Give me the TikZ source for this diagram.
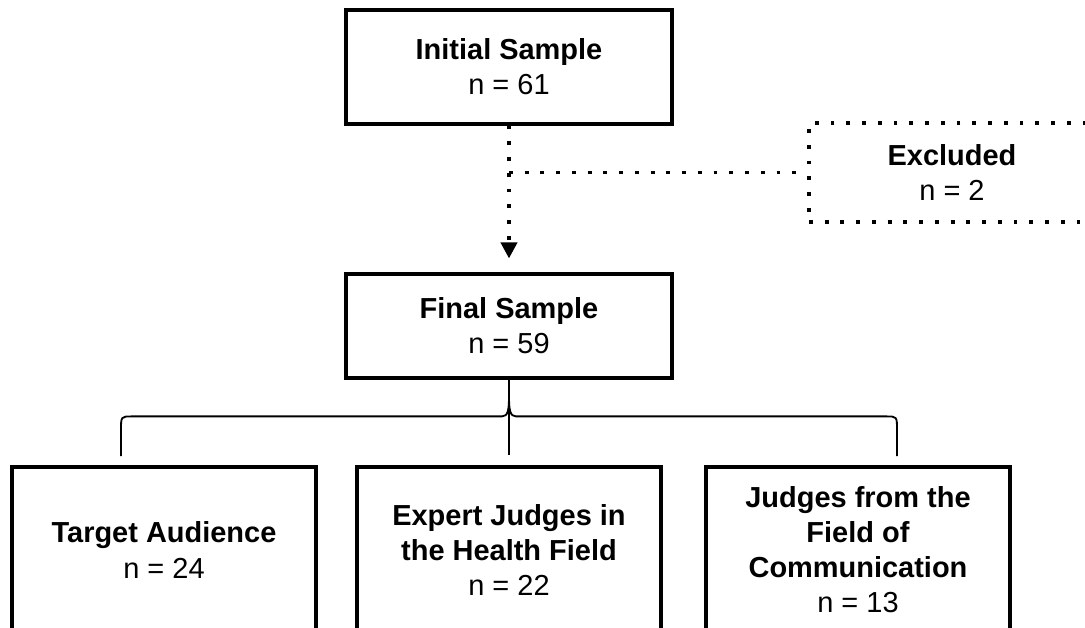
\documentclass[tikz,border=0pt]{standalone}
\usepackage{fontspec}
\setmainfont{Liberation Sans}
\usetikzlibrary{positioning, arrows.meta}

\begin{document}
\begin{tikzpicture}[
        box/.style={draw, line width=2.2pt, align=center, inner sep=0pt,
                    minimum width=8.15cm, font=\fontsize{20.6}{24.9}\selectfont},
        groupbox/.style={box, minimum width=7.6cm, minimum height=4.15cm},
        dotline/.style={line width=2.7pt, dash pattern=on 2.7pt off 8.5pt},
        brace/.style={line width=1.3pt}
    ]

        \path[use as bounding box, clip] (0, 0) rectangle (27.125, -15.7);

        % Sample boxes
        \node[box, minimum height=2.85cm] (init) at (12.725, -1.675) {\textbf{Initial Sample}\\n = 61};
        \node[box, minimum height=2.6cm] (final) at (12.725, -8.15) {\textbf{Final Sample}\\n = 59};

        % Excluded box
        \node[box, dotline, minimum width=7.15cm, minimum height=2.475cm] (excl) at (23.8, -4.3125) {\textbf{Excluded}\\n = 2};

        % Dotted arrow and branch
        \draw[dotline, -{Triangle[width=0.4cm, length=0.4cm]}, shorten >=0.35cm] (init) -- (final);
        \coordinate (split) at (init.south |- excl.west);
        \draw[dotline] (split) -- (excl);

        % Groups
        \node[groupbox] (aud) at (4.1, -13.75) {\textbf{Target Audience}\\n = 24};
        \node[groupbox] (health) at (12.725, -13.75) {\textbf{Expert Judges in}\\\textbf{the Health Field}\\n = 22};
        \node[groupbox] (comm) at (21.45, -13.75) {\textbf{Judges from the}\\\textbf{Field of}\\\textbf{Communication}\\n = 13};

        % Brace
        \coordinate (bl) at (3.025, -11.4);
        \coordinate (br) at (22.425, -11.4);
        \draw[brace] (bl) -- (3.025, -10.75) .. controls (3.025, -10.41) .. (3.3, -10.41)
            -- (12.55, -10.41) .. controls (12.7, -10.41) and (12.725, -10.25) .. (12.725, -9.9)
            -- (final.south);
        \draw[brace] (br) -- (22.425, -10.75) .. controls (22.425, -10.41) .. (22.15, -10.41)
            -- (12.9, -10.41) .. controls (12.75, -10.41) and (12.725, -10.25) .. (12.725, -9.9);
        \draw[brace, shorten >=0.25cm] (final.south) -- (health.north);

    \end{tikzpicture}
\end{document}
